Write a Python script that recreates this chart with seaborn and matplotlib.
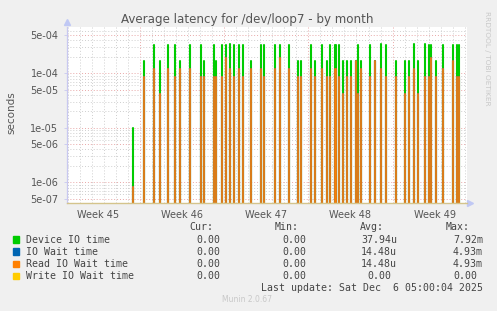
import numpy as np
import pandas as pd
import matplotlib
matplotlib.use("Agg")
import matplotlib.pyplot as plt
from matplotlib.ticker import LogLocator, FixedLocator, FuncFormatter
import seaborn as sns

# ---------------- data (days relative to Sun Nov 30 2025 00:00) ----------------
spike_day = [-21.58, -20.65, -19.81, -19.31, -18.67, -18.08, -17.72, -16.83, -15.92, -15.67,
             -14.89, -14.72, -14.22, -13.89, -13.56, -13.22, -12.81, -12.47, -11.81, -10.97,
             -10.72, -9.81, -9.39, -8.64, -7.89, -7.64, -6.81, -6.47, -5.89, -5.47,
             -5.22, -4.81, -4.72, -4.47, -4.14, -3.81, -3.47, -3.06, -2.89, -2.64,
             -1.89, -1.47, -0.97, -0.56, 0.28, 1.03, 1.36, 1.78, 2.11, 2.69,
             3.03, 3.19, 3.61, 4.19, 5.03, 5.36, 5.53]
device_io = [1.0e-5, 1.66e-4, 3.3e-4, 1.66e-4, 3.3e-4, 3.3e-4, 1.66e-4, 3.3e-4, 3.3e-4, 1.66e-4,
             3.3e-4, 1.66e-4, 3.3e-4, 3.3e-4, 3.45e-4, 3.3e-4, 3.3e-4, 3.3e-4, 1.66e-4, 3.3e-4,
             3.3e-4, 3.3e-4, 3.3e-4, 3.3e-4, 1.66e-4, 1.66e-4, 3.3e-4, 1.66e-4, 3.3e-4, 1.66e-4,
             3.3e-4, 3.3e-4, 3.3e-4, 3.3e-4, 1.66e-4, 1.66e-4, 1.66e-4, 1.66e-4, 3.3e-4, 1.66e-4,
             3.3e-4, 1.66e-4, 3.45e-4, 3.3e-4, 1.66e-4, 1.66e-4, 1.66e-4, 3.45e-4, 1.66e-4, 3.45e-4,
             3.3e-4, 3.3e-4, 1.66e-4, 3.3e-4, 3.3e-4, 3.3e-4, 3.3e-4]
read_wait = [8.1e-7, 8.5e-5, 1.22e-4, 4.1e-5, 1.22e-4, 8.5e-5, 1.22e-4, 1.22e-4, 8.5e-5, 8.5e-5,
             8.5e-5, 8.5e-5, 8.5e-5, 1.94e-4, 1.22e-4, 8.5e-5, 1.22e-4, 8.5e-5, 1.22e-4, 1.22e-4,
             8.5e-5, 1.22e-4, 1.94e-4, 1.22e-4, 8.5e-5, 8.5e-5, 1.22e-4, 8.5e-5, 1.22e-4, 8.5e-5,
             8.5e-5, 1.22e-4, 1.22e-4, 8.5e-5, 4.1e-5, 8.5e-5, 8.5e-5, 1.66e-4, 4.1e-5, 1.22e-4,
             8.5e-5, 1.66e-4, 1.22e-4, 8.5e-5, 8.5e-5, 4.1e-5, 8.5e-5, 1.22e-4, 4.1e-5, 8.5e-5,
             8.5e-5, 1.94e-4, 8.5e-5, 1.22e-4, 1.7e-4, 8.5e-5, 8.5e-5]
io_wait = list(read_wait)

series_names = ["Device IO time", "IO Wait time", "Read IO Wait time", "Write IO Wait time"]
series_colors = ["#00CC00", "#0066B3", "#FF8000", "#FFCC00"]
legend_cur = ["0.00 ", "0.00 ", "0.00 ", "0.00 "]
legend_min = ["0.00 ", "0.00 ", "0.00 ", "0.00 "]
legend_avg = ["37.94u", "14.48u", "14.48u", "0.00 "]
legend_max = ["7.92m", "4.93m", "4.93m", "0.00 "]
week_labels = ["Week 45", "Week 46", "Week 47", "Week 48", "Week 49"]
week_centers = [-24.5, -17.5, -10.5, -3.5, 3.5]

X_MIN, X_MAX = -27.11, 6.22
Y_MIN, Y_MAX = 4.12e-7, 6.98e-4

# ---------------- long table: each sample drawn as a vertical spike from the floor ----------------
rows = []
for name, vals in [("Device IO time", device_io), ("IO Wait time", io_wait),
                   ("Read IO Wait time", read_wait)]:
    for i, (d, v) in enumerate(zip(spike_day, vals)):
        rows.append((name, i, d, Y_MIN))
        rows.append((name, i, d, v))
df = pd.DataFrame(rows, columns=["series", "unit", "day", "seconds"])

# ---------------- figure ----------------
sns.set_theme(style="white")
plt.rcParams["font.family"] = ["DejaVu Sans"]
fig = plt.figure(figsize=(4.97, 3.11), dpi=100, facecolor="#F0F0F0")
ax = fig.add_axes([66.7 / 497, 1 - 203.3 / 311, (467.3 - 66.7) / 497, (203.3 - 27.3) / 311])
ax.set_facecolor("white")
ax.set_yscale("log")
ax.set_xlim(X_MIN, X_MAX)
ax.set_ylim(Y_MIN, Y_MAX)

# grid
gray = "#CFCFCF"
red = "#E8A8A8"
dot = (0, (1, 2))
for d in range(int(np.ceil(X_MIN)), int(np.floor(X_MAX)) + 1):
    ax.axvline(d, color=red if d % 7 == 0 else gray, lw=0.7, ls=dot, zorder=0)
ax.yaxis.set_major_locator(LogLocator(base=10, subs=(1.0, 5.0)))
ax.yaxis.set_minor_locator(LogLocator(base=10, subs=(2, 3, 4, 6, 7, 8, 9)))
ax.yaxis.set_major_formatter(FuncFormatter(lambda v, p: "%.0e" % v))
ax.yaxis.set_minor_formatter(FuncFormatter(lambda v, p: ""))
ax.grid(True, axis="y", which="major", color=red, lw=0.7, ls=dot)
ax.grid(True, axis="y", which="minor", color=gray, lw=0.7, ls=dot)
ax.set_axisbelow(True)

sns.lineplot(data=df[df.series == "Device IO time"], x="day", y="seconds", units="unit",
             estimator=None, sort=False, color=series_colors[0], lw=1.5, legend=False, ax=ax)
sns.lineplot(data=df[df.series == "IO Wait time"], x="day", y="seconds", units="unit",
             estimator=None, sort=False, color=series_colors[1], lw=1.5, legend=False, ax=ax)
sns.lineplot(data=df[df.series == "Read IO Wait time"], x="day", y="seconds", units="unit",
             estimator=None, sort=False, color=series_colors[2], lw=1.5, alpha=0.85,
             legend=False, ax=ax)

ax.xaxis.set_major_locator(FixedLocator(week_centers))
ax.set_xticklabels(week_labels)
ax.tick_params(axis="x", length=0, pad=5, labelsize=7, labelcolor="#555555")
ax.tick_params(axis="y", which="major", length=2, width=0.6, color="#C8C8F0", pad=4,
               labelsize=7, labelcolor="#555555", left=True)
ax.tick_params(axis="y", which="minor", length=0)
ax.set_xlabel("")
ax.set_ylabel("")
fig.text(11 / 497, 1 - 113 / 311, "seconds", rotation=90, ha="center", va="center",
         fontsize=7.5, color="#555555")

for s in ["top", "right"]:
    ax.spines[s].set_visible(False)
ax.spines["left"].set_color("#C8C8F0")
ax.spines["left"].set_linewidth(0.9)
ax.spines["bottom"].set_color("#D4C48C")
ax.spines["bottom"].set_linewidth(1.0)
ax.plot([0], [1.03], marker="^", ms=4, color="#C0C8F4", transform=ax.transAxes, clip_on=False)
ax.plot([1.007], [0], marker=">", ms=4, color="#C0C8F4", transform=ax.transAxes, clip_on=False)

# title and side text
fig.text(247.5 / 497, 1 - 19.3 / 311, "Average latency for /dev/loop7 - by month",
         ha="center", va="center", fontsize=8.6, color="#555555")
fig.text(487 / 497, 1 - 58 / 311, "RRDTOOL / TOBI OETIKER", rotation=270,
         ha="center", va="center", fontsize=5.3, color="#C8C8C8")

# legend table
mono = "DejaVu Sans Mono"
fs = 7.1
tc = "#444444"
hy = 1 - 227.3 / 311
for txt, xr in [("Cur:", 213), ("Min:", 299), ("Avg:", 384), ("Max:", 470)]:
    fig.text(xr / 497, hy, txt, ha="right", va="center", family=mono, fontsize=fs, color=tc)
row_y = [239.7, 251.7, 263.7, 275.7]
for i, name in enumerate(series_names):
    y = 1 - row_y[i] / 311
    fig.patches.append(plt.Rectangle((12.5 / 497, y - 3.2 / 311), 6.4 / 497, 6.4 / 311,
                                     transform=fig.transFigure, color=series_colors[i]))
    fig.text(26 / 497, y, name, ha="left", va="center", family=mono, fontsize=fs, color=tc)
    for vals, xr in [(legend_cur, 226), (legend_min, 312), (legend_avg, 397), (legend_max, 483)]:
        s = vals[i]
        x = xr if not s.endswith(" ") else xr - 6
        fig.text(x / 497, y, s.strip(), ha="right", va="center", family=mono, fontsize=fs, color=tc)
fig.text(483 / 497, 1 - 287.7 / 311, "Last update: Sat Dec  6 05:00:04 2025", ha="right",
         va="center", family=mono, fontsize=fs, color=tc)
fig.text(247 / 497, 1 - 300 / 311, "Munin 2.0.67", ha="center", va="center",
         fontsize=5.5, color="#C8C8C8")

fig.savefig("out.png", dpi=100, facecolor=fig.get_facecolor())
